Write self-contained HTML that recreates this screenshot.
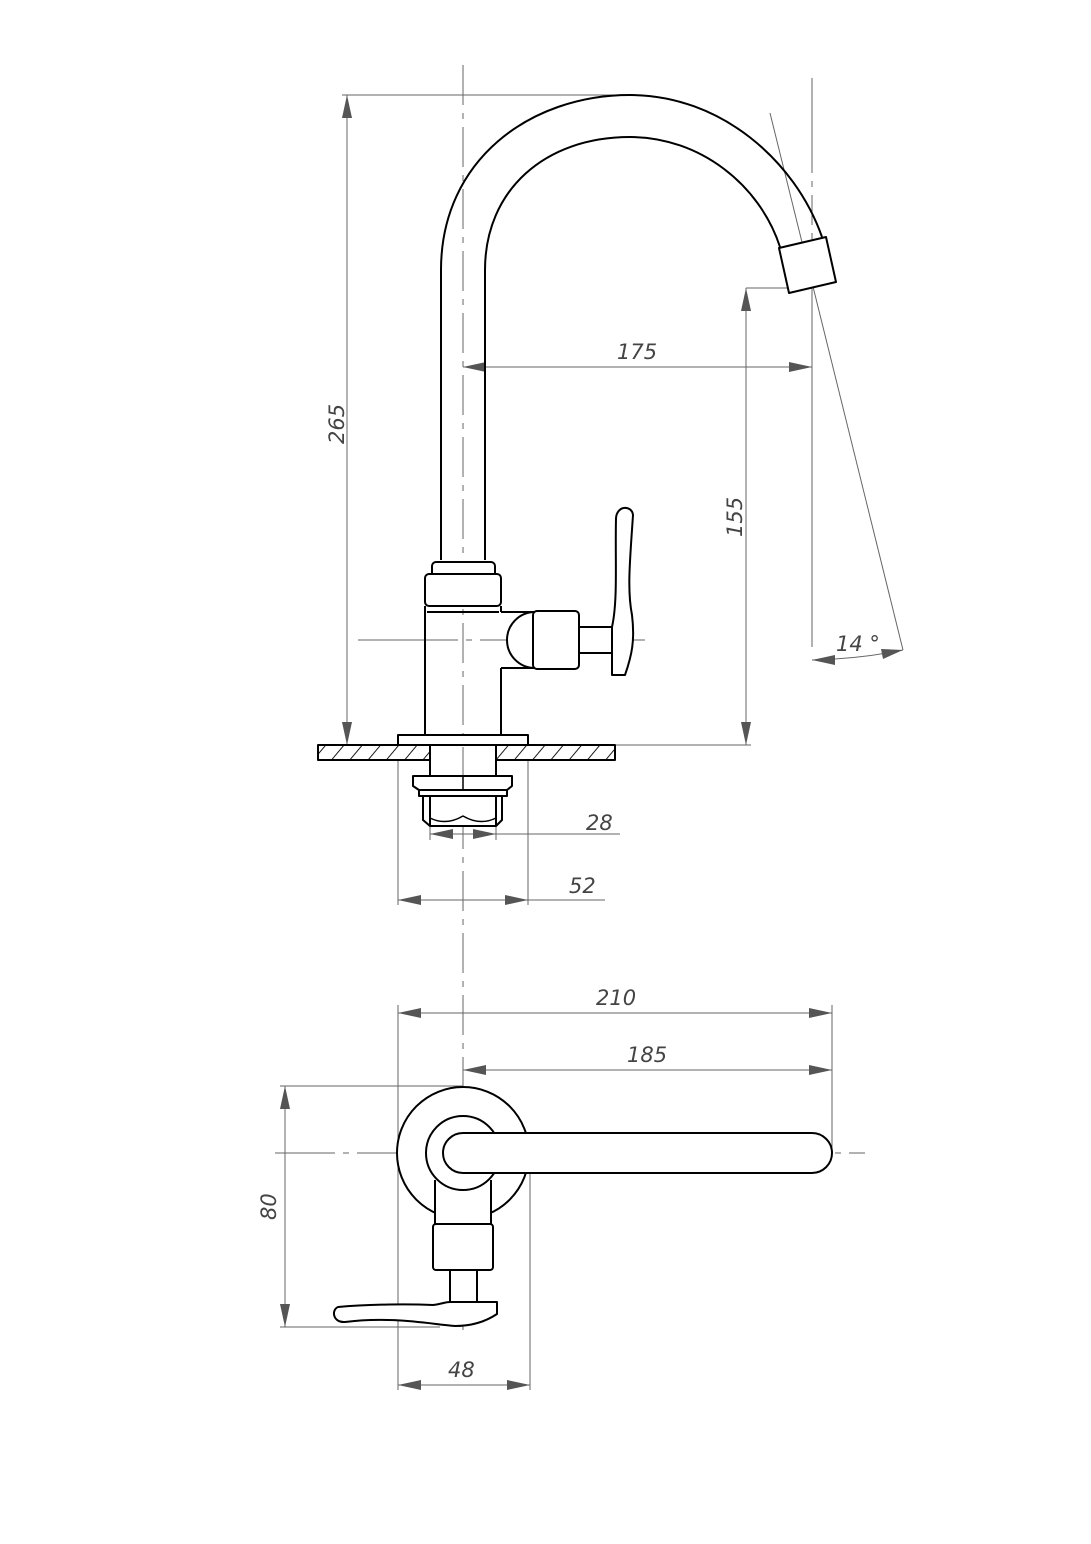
<!DOCTYPE html>
<html><head><meta charset="utf-8"><style>
html,body{margin:0;padding:0;background:#fff}
svg{display:block}
text{font-family:"DejaVu Sans","Liberation Sans",sans-serif;font-style:italic;font-size:21px;fill:#444}
</style></head><body>
<svg width="1091" height="1544" viewBox="0 0 1091 1544" xmlns="http://www.w3.org/2000/svg">
<defs>
<pattern id="h" width="14" height="14" patternUnits="userSpaceOnUse" patternTransform="rotate(40)">
<rect width="14" height="14" fill="#fff"/><line x1="0" y1="0" x2="0" y2="14" stroke="#000" stroke-width="1.8"/></pattern>
</defs>
<g stroke="#666" stroke-width="1" fill="none">
<line x1="463" y1="65" x2="463" y2="1330" stroke-dasharray="40,8,6,8"/>
<line x1="812" y1="78" x2="812" y2="660" stroke-dasharray="95,8,6,8,30,8,6,8,400"/>
<line x1="358" y1="640" x2="645" y2="640" stroke-dasharray="100,8,6,8"/>
<line x1="275" y1="1153" x2="865" y2="1153" stroke-dasharray="60,8,6,8"/>
<line x1="347" y1="95" x2="347" y2="745"/>
<line x1="342" y1="95" x2="630" y2="95"/>
<line x1="463" y1="367" x2="812" y2="367"/>
<line x1="746" y1="288" x2="746" y2="745"/>
<line x1="746" y1="288" x2="800" y2="288"/>
<line x1="616" y1="745" x2="751" y2="745"/>
<line x1="770" y1="113" x2="903" y2="650"/>
<path d="M812,660 Q860,659 903,650"/>
<line x1="430" y1="826" x2="430" y2="840"/>
<line x1="496" y1="826" x2="496" y2="840"/>
<line x1="430" y1="834" x2="620" y2="834"/>
<line x1="398" y1="745" x2="398" y2="905"/>
<line x1="528" y1="745" x2="528" y2="905"/>
<line x1="398" y1="900" x2="605" y2="900"/>
<line x1="398" y1="1005" x2="398" y2="1390"/>
<line x1="832" y1="1005" x2="832" y2="1150"/>
<line x1="398" y1="1013" x2="832" y2="1013"/>
<line x1="463" y1="1070" x2="832" y2="1070"/>
<line x1="285" y1="1086" x2="285" y2="1327"/>
<line x1="280" y1="1086" x2="463" y2="1086"/>
<line x1="280" y1="1327" x2="440" y2="1327"/>
<line x1="530" y1="1150" x2="530" y2="1390"/>
<line x1="398" y1="1385" x2="530" y2="1385"/>
</g>
<g fill="#555">
<polygon points="347,95 342,118 352,118"/><polygon points="347,745 342,722 352,722"/>
<polygon points="463,367 486,362 486,372"/><polygon points="812,367 789,362 789,372"/>
<polygon points="746,288 741,311 751,311"/><polygon points="746,745 741,722 751,722"/>
<polygon points="812,660 835,655 835,665"/><polygon points="903,650 881,649 883,659"/>
<polygon points="430,834 453,829 453,839"/><polygon points="496,834 473,829 473,839"/>
<polygon points="398,900 421,895 421,905"/><polygon points="528,900 505,895 505,905"/>
<polygon points="398,1013 421,1008 421,1018"/><polygon points="832,1013 809,1008 809,1018"/>
<polygon points="463,1070 486,1065 486,1075"/><polygon points="832,1070 809,1065 809,1075"/>
<polygon points="285,1086 280,1109 290,1109"/><polygon points="285,1327 280,1304 290,1304"/>
<polygon points="398,1385 421,1380 421,1390"/><polygon points="530,1385 507,1380 507,1390"/>
</g>
<text x="617" y="359">175</text>
<text transform="translate(344,444) rotate(-90)">265</text>
<text transform="translate(742,537) rotate(-90)">155</text>
<text x="836" y="651">14 °</text>
<text x="586" y="830">28</text>
<text x="569" y="893">52</text>
<text x="596" y="1005">210</text>
<text x="627" y="1062">185</text>
<text transform="translate(276,1220) rotate(-90)">80</text>
<text x="448" y="1377">48</text>
<g stroke="#000" stroke-width="2" fill="none" stroke-linejoin="round">
<path d="M441,560 L441,270 C441,160 530,95 630,95 C720,95 795,160 822,237"/>
<path d="M485,560 L485,270 C485,190 545,137 630,137 C700,137 760,185 780,247"/>
<polygon points="779,248 826,237 836,282 789,293" fill="#fff"/>
<rect x="432" y="562" width="63" height="16" rx="4" fill="#fff"/>
<rect x="425" y="574" width="76" height="32" rx="4" fill="#fff"/>
<line x1="427" y1="612" x2="499" y2="612"/>
<path d="M425,606 L425,735 M501,606 L501,612 M501,668 L501,735"/>
<path d="M535,612 A28,28 0 0 0 535,668" fill="#fff"/>
<line x1="501" y1="612" x2="535" y2="612"/><line x1="501" y1="668" x2="535" y2="668"/>
<rect x="533" y="611" width="46" height="58" rx="4" fill="#fff"/>
<rect x="579" y="627" width="33" height="26" fill="#fff"/>
<path d="M612,627 C618,600 615,560 616,518 C617,505 632,505 633,515 C630,560 627,590 632,615 C635,640 632,655 625,675 L612,675 Z" fill="#fff"/>
<rect x="398" y="735" width="130" height="10" fill="#fff"/>
<rect x="318" y="745" width="112" height="15" fill="url(#h)"/>
<rect x="496" y="745" width="119" height="15" fill="url(#h)"/>
<line x1="430" y1="745" x2="496" y2="745"/>
<line x1="430" y1="760" x2="430" y2="776"/><line x1="496" y1="760" x2="496" y2="776"/>
<path d="M413,776 L512,776 L512,786 L507,790 L419,790 L413,786 Z" fill="#fff"/>
<rect x="419" y="790" width="88" height="6" fill="#fff"/>
<path d="M423,796 L502,796 L502,820 L496,826 L430,826 L423,820 Z" fill="#fff"/>
<line x1="430" y1="796" x2="430" y2="826"/><line x1="496" y1="796" x2="496" y2="826"/>
<path d="M430,818 Q446,826 463,816 Q480,826 496,818" stroke-width="1.5"/>
<line x1="463" y1="776" x2="463" y2="790" stroke-width="1.5"/>
<circle cx="463" cy="1153" r="66" fill="#fff"/>
<rect x="435" y="1180" width="56" height="46" fill="#fff" stroke="none"/>
<path d="M435,1180 L435,1225 M491,1180 L491,1225"/>
<circle cx="463" cy="1153" r="37" fill="#fff"/>
<path d="M463,1133 L812,1133 A20,20 0 0 1 812,1173 L463,1173 A20,20 0 0 1 463,1133 Z" fill="#fff"/>
<rect x="433" y="1224" width="60" height="46" rx="3" fill="#fff"/>
<rect x="450" y="1270" width="27" height="32" fill="#fff"/>
<path d="M497,1302 L497,1314 C485,1322 470,1326 455,1326 C430,1324 390,1316 345,1322 C333,1323 331,1310 338,1307 C370,1304 410,1304 433,1305 C442,1304 445,1302 450,1302 Z" fill="#fff"/>
</g>
</svg>
</body></html>
